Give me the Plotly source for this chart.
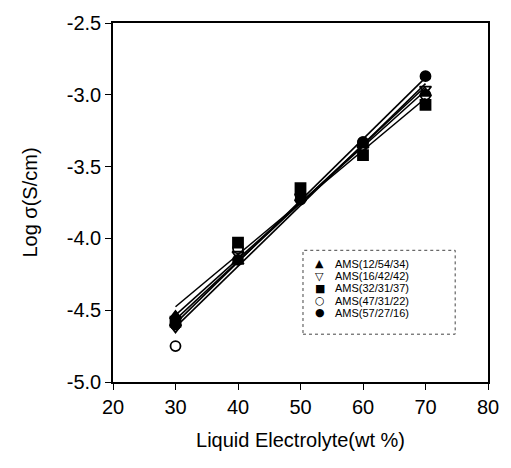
import numpy as np
import plotly.graph_objects as go

x_vals = [30, 40, 50, 60, 70]
names = ["AMS(12/54/34)", "AMS(16/42/42)", "AMS(32/31/37)", "AMS(47/31/22)", "AMS(57/27/16)"]
y_12_54_34 = [-4.54, -4.16, -3.72, -3.35, -2.99]
y_16_42_42 = [-4.62, -4.11, -3.71, -3.37, -2.96]
y_32_31_37 = [-4.58, -4.03, -3.65, -3.42, -3.07]
y_47_31_22 = [-4.75, -4.07, -3.70, -3.33, -3.00]
y_57_27_16 = [-4.60, -4.15, -3.73, -3.33, -2.87]
series = [y_12_54_34, y_16_42_42, y_32_31_37, y_47_31_22, y_57_27_16]
symbols = ["triangle-up", "triangle-down-open", "square", "circle-open", "circle"]
legend_glyphs = ["▲", "▽", "■", "○", "●"]

fig = go.Figure()
for ys in series:
    k, b = np.polyfit(x_vals, ys, 1)
    fx = np.array([30, 70])
    fig.add_trace(go.Scatter(x=fx, y=k * fx + b, mode="lines",
                             line=dict(color="black", width=1.6), showlegend=False,
                             hoverinfo="skip"))
for ys, nm, sym in zip(series, names, symbols):
    fig.add_trace(go.Scatter(x=x_vals, y=ys, mode="markers", name=nm, showlegend=False,
                             marker=dict(symbol=sym, size=10, color="black",
                                         line=dict(color="black", width=1.8))))

font = "Liberation Sans, Arial, sans-serif"
W = 377.0
H = 368.0
def px(xp):
    return (xp - 113) / W
def py(yp):
    return 1 - (yp - 14) / H
annotations = []
row_y = [261, 273.5, 286, 298.5, 311]
for g, nm, yy in zip(legend_glyphs, names, row_y):
    annotations.append(dict(xref="paper", yref="paper", x=px(321), y=py(yy), text=g,
                            showarrow=False, xanchor="center", yanchor="middle",
                            font=dict(family="DejaVu Sans", size=11, color="black")))
    annotations.append(dict(xref="paper", yref="paper", x=px(334), y=py(yy), text=nm,
                            showarrow=False, xanchor="left", yanchor="middle",
                            font=dict(family=font, size=11, color="black")))

fig.update_layout(
    width=511, height=468,
    margin=dict(l=113, r=21, t=14, b=86),
    paper_bgcolor="white", plot_bgcolor="white",
    font=dict(family=font, color="black", size=20),
    showlegend=False,
    annotations=annotations,
    shapes=[dict(type="rect", xref="paper", yref="paper",
                 x0=px(304), x1=px(457), y0=py(333), y1=py(247),
                 line=dict(color="#444", width=1, dash="dot"))],
)
fig.update_xaxes(range=[20, 80], tickvals=[20, 30, 40, 50, 60, 70, 80],
                 showline=True, mirror=True, linecolor="black", linewidth=1.5,
                 ticks="outside", ticklen=6, tickcolor="black", showgrid=False,
                 zeroline=False, tickfont=dict(size=20),
                 title=dict(text="Liquid Electrolyte(wt %)", font=dict(size=20), standoff=16))
fig.update_yaxes(range=[-5.0, -2.5], tickvals=[-5.0, -4.5, -4.0, -3.5, -3.0, -2.5],
                 ticktext=["-5.0", "-4.5", "-4.0", "-3.5", "-3.0", "-2.5"],
                 showline=True, mirror=True, linecolor="black", linewidth=1.5,
                 ticks="outside", ticklen=6, tickcolor="black", showgrid=False,
                 zeroline=False, tickfont=dict(size=20),
                 title=dict(text="Log σ(S/cm)", font=dict(size=20), standoff=24))

fig.write_html("out.html")
